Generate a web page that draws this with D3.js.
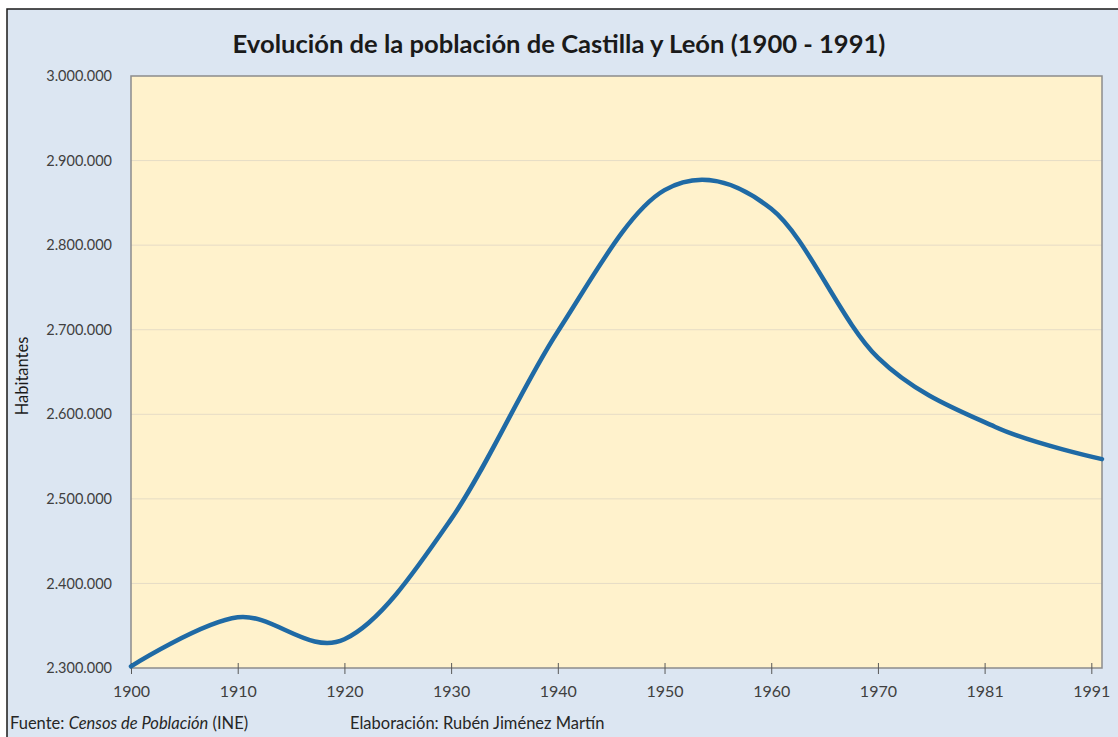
<!DOCTYPE html>
<html>
<head>
<meta charset="utf-8">
<script src="https://cdn.jsdelivr.net/npm/d3@7"></script>
<style>
  body { margin: 0; background: #fff; }
  text { font-family: Lato, "Open Sans", sans-serif; }
</style>
</head>
<body>
<script>
// census years and population (Castilla y León)
var years = [1900, 1910, 1920, 1930, 1940, 1950, 1960, 1970, 1981, 1991];
var habitantes = [2302000, 2360000, 2334000, 2476000, 2698000, 2865000, 2843000, 2667000, 2585000, 2547000];
// axis ticks as shown in the picture
var xTicks = [1900, 1910, 1920, 1930, 1940, 1950, 1960, 1970, 1980, 1990];
var xTickLabels = ["1900", "1910", "1920", "1930", "1940", "1950", "1960", "1970", "1981", "1991"];
var yTicks = [2300000, 2400000, 2500000, 2600000, 2700000, 2800000, 2900000, 3000000];

var width = 1118, height = 737;
var plot = {left: 131, top: 76, right: 1102, bottom: 668};

var es = d3.formatLocale({decimal: ",", thousands: ".", grouping: [3], currency: ["", "€"]});
var fmt = es.format(",d");

var svg = d3.select("body").append("svg")
    .attr("width", width)
    .attr("height", height);

// outer chart frame
svg.append("rect")
    .attr("x", 7).attr("y", 9)
    .attr("width", width + 20).attr("height", height + 20)
    .attr("fill", "#dce6f2")
    .attr("stroke", "#1a1a1a")
    .attr("stroke-width", 1.5);

var x = d3.scaleLinear().domain([1900, 1991]).range([plot.left, plot.right]);
var y = d3.scaleLinear().domain([2300000, 3000000]).range([plot.bottom, plot.top]);

// plot background
svg.append("rect")
    .attr("x", plot.left).attr("y", plot.top)
    .attr("width", plot.right - plot.left).attr("height", plot.bottom - plot.top)
    .attr("fill", "#fff2cc");

// gridlines
svg.append("g").selectAll("line")
    .data(yTicks.slice(1, -1))
    .enter().append("line")
    .attr("x1", plot.left).attr("x2", plot.right)
    .attr("y1", function(d){ return y(d); })
    .attr("y2", function(d){ return y(d); })
    .attr("stroke", "#e6dcc6")
    .attr("stroke-width", 1);

// plot border
svg.append("rect")
    .attr("x", plot.left).attr("y", plot.top)
    .attr("width", plot.right - plot.left).attr("height", plot.bottom - plot.top)
    .attr("fill", "none")
    .attr("stroke", "#8c8c8c")
    .attr("stroke-width", 1.5);

// x axis
var xAxis = d3.axisBottom(x)
    .tickValues(xTicks)
    .tickSize(6)
    .tickPadding(11)
    .tickFormat(function(d, i){ return xTickLabels[i]; });

var gx = svg.append("g")
    .attr("transform", "translate(0," + (plot.bottom - 5) + ")")
    .call(xAxis);
gx.select(".domain").remove();
gx.selectAll(".tick line").attr("stroke", "#595959").attr("y2", 11);
gx.selectAll(".tick text")
    .attr("y", 23)
    .attr("fill", "#404040")
    .style("font-size", "16px");

// y axis
var yAxis = d3.axisLeft(y)
    .tickValues(yTicks)
    .tickSize(0)
    .tickPadding(19)
    .tickFormat(fmt);

var gy = svg.append("g")
    .attr("transform", "translate(" + plot.left + ",0)")
    .call(yAxis);
gy.select(".domain").remove();
gy.selectAll(".tick text")
    .attr("fill", "#404040")
    .style("font-size", "14.5px");

// the line (uniform catmull-rom, like the spreadsheet smoothing)
var line = d3.line()
    .x(function(d, i){ return x(years[i]); })
    .y(function(d){ return y(d); })
    .curve(d3.curveCatmullRom.alpha(0));

svg.append("path")
    .datum(habitantes)
    .attr("d", line)
    .attr("fill", "none")
    .attr("stroke", "#1f6aa5")
    .attr("stroke-width", 4.5)
    .attr("stroke-linecap", "round");

// title
var title = svg.append("text")
    .attr("x", 559)
    .attr("y", 53)
    .attr("text-anchor", "middle")
    .attr("fill", "#1a1a1a")
    .style("font-size", "22px")
    .style("font-weight", "bold")
    .text("Evolución de la población de Castilla y León (1900 - 1991)");
var tw = title.node().getComputedTextLength();
title.style("font-size", (22 * 653 / tw) + "px");

// y axis title
svg.append("text")
    .attr("transform", "translate(28,376) rotate(-90)")
    .attr("text-anchor", "middle")
    .attr("fill", "#1a1a1a")
    .style("font-size", "16.5px")
    .text("Habitantes");

// footer
var foot = svg.append("text")
    .attr("x", 10)
    .attr("y", 729)
    .attr("fill", "#262626")
    .style("font-size", "16.5px");
foot.append("tspan").text("Fuente: ");
foot.append("tspan").style("font-style", "italic").text("Censos de Población");
foot.append("tspan").text(" (INE)");

svg.append("text")
    .attr("x", 350)
    .attr("y", 729)
    .attr("fill", "#262626")
    .style("font-size", "16.5px")
    .text("Elaboración: Rubén Jiménez Martín");
</script>
</body>
</html>
